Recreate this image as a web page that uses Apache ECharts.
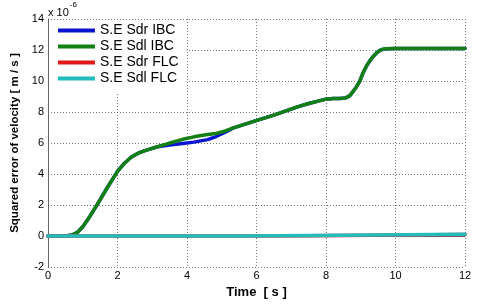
<!DOCTYPE html>
<html><head><meta charset="utf-8">
<script src="https://cdn.jsdelivr.net/npm/echarts@6/dist/echarts.min.js"></script>
<style>html,body{margin:0;padding:0;background:#fff}#c{width:480px;height:304px}</style>
</head><body><div id="c"></div>
<script>
// Data (values in units of 1e-6)
const timeIBC = [0, 0.45, 0.55, 0.65, 0.75, 0.85, 1.0, 1.2, 1.42, 1.7, 2.0, 2.2, 2.4, 2.58, 2.75, 2.95, 3.15, 3.5, 3.88, 4.2, 4.59, 4.84, 5.1, 5.32, 5.65, 5.99, 6.5, 6.85, 7.2, 7.53, 7.8, 8.0, 8.2, 8.4, 8.55, 8.68, 8.77, 8.87, 8.97, 9.06, 9.16, 9.26, 9.35, 9.45, 9.54, 9.62, 9.73, 10, 12];
const sdlIBC   = [0, 0, 0.02, 0.06, 0.13, 0.25, 0.6, 1.25, 2.05, 3.1, 4.17, 4.7, 5.1, 5.33, 5.48, 5.62, 5.76, 6.0, 6.24, 6.4, 6.55, 6.62, 6.78, 6.96, 7.2, 7.45, 7.8, 8.08, 8.35, 8.57, 8.72, 8.83, 8.87, 8.87, 8.9, 9.04, 9.3, 9.6, 9.98, 10.5, 10.94, 11.3, 11.57, 11.8, 11.96, 12.04, 12.08, 12.1, 12.1];
const sdrIBC   = [0, 0, 0.02, 0.06, 0.13, 0.25, 0.6, 1.25, 2.05, 3.1, 4.17, 4.7, 5.1, 5.33, 5.48, 5.62, 5.76, 5.88, 5.97, 6.06, 6.22, 6.42, 6.7, 6.96, 7.2, 7.45, 7.8, 8.08, 8.35, 8.57, 8.72, 8.83, 8.87, 8.87, 8.9, 9.04, 9.3, 9.6, 9.98, 10.5, 10.94, 11.3, 11.57, 11.8, 11.96, 12.04, 12.08, 12.1, 12.1];
const timeFLC  = [0, 5.5, 5.5, 7.55, 7.55, 12];
const sdrFLC   = [0, 0, 0.02, 0.02, 0.1, 0.1];
const sdlFLC   = [0, 0, 0.04, 0.04, 0.12, 0.12];
const names = ['S.E Sdr IBC', 'S.E Sdl IBC', 'S.E Sdr FLC', 'S.E Sdl FLC'];
const colors = ['#0a14d0', '#138013', '#e01818', '#22bcbc'];
const xTicks = {min: 0, max: 12, interval: 2};
const yTicks = {min: -2, max: 14, interval: 2};

const pairs = (t, v) => t.map((x, i) => [x, v[i]]);
const font = 'Liberation Sans, Arial, sans-serif';
const chart = echarts.init(document.getElementById('c'), null, {renderer: 'canvas'});
const mk = (i, data) => ({
  name: names[i], type: 'line', data, showSymbol: false, symbol: 'none',
  smooth: false,
  lineStyle: {width: 3.5, color: colors[i], join: 'round', cap: 'round'}, itemStyle: {color: colors[i]}, animation: false
});
chart.setOption({
  backgroundColor: '#fff',
  animation: false,
  textStyle: {fontFamily: font},
  grid: {left: 48, right: 15, top: 19, bottom: 33},
  xAxis: {
    type: 'value', min: xTicks.min, max: xTicks.max, interval: xTicks.interval,
    name: 'Time  [ s ]', nameLocation: 'middle', nameGap: 15,
    nameTextStyle: {fontFamily: font, fontWeight: 'bold', fontSize: 13, color: '#000'},
    axisLine: {lineStyle: {color: '#666', width: 1}},
    axisTick: {show: false},
    axisLabel: {color: '#000', fontSize: 11, fontFamily: font, margin: 3},
    splitLine: {show: true, lineStyle: {type: [1, 2], color: '#777', width: 1}}
  },
  yAxis: {
    type: 'value', min: yTicks.min, max: yTicks.max, interval: yTicks.interval,
    name: 'Squared error of velocity [ m / s ]', nameLocation: 'middle', nameGap: 27,
    nameTextStyle: {fontFamily: font, fontWeight: 'bold', fontSize: 11.5, color: '#000'},
    axisLine: {show: true, lineStyle: {color: '#666', width: 1}},
    axisTick: {show: false},
    axisLabel: {color: '#000', fontSize: 11, fontFamily: font, margin: 4},
    splitLine: {show: true, lineStyle: {type: [1, 2], color: '#777', width: 1}}
  },
  legend: {
    orient: 'vertical', left: 49, top: 21,
    padding: [2, 8, 6, 9], itemGap: 1, itemWidth: 37, itemHeight: 4,
    backgroundColor: '#fff', icon: 'rect',
    textStyle: {fontFamily: font, fontSize: 14, color: '#000', lineHeight: 15},
    data: names
  },
  graphic: [{
    type: 'text', left: 48, top: 1,
    style: {text: '{a|x 10}{b|-6}', rich: {
      a: {fontFamily: font, fontSize: 11, fill: '#000', padding: [6, 0, 0, 0]},
      b: {fontFamily: font, fontSize: 8, fill: '#000', verticalAlign: 'top', padding: [0, 0, 6, 1]}
    }}
  }],
  series: [
    mk(0, pairs(timeIBC, sdrIBC)),
    mk(1, pairs(timeIBC, sdlIBC)),
    mk(2, pairs(timeFLC, sdrFLC)),
    mk(3, pairs(timeFLC, sdlFLC))
  ]
});
</script></body></html>
